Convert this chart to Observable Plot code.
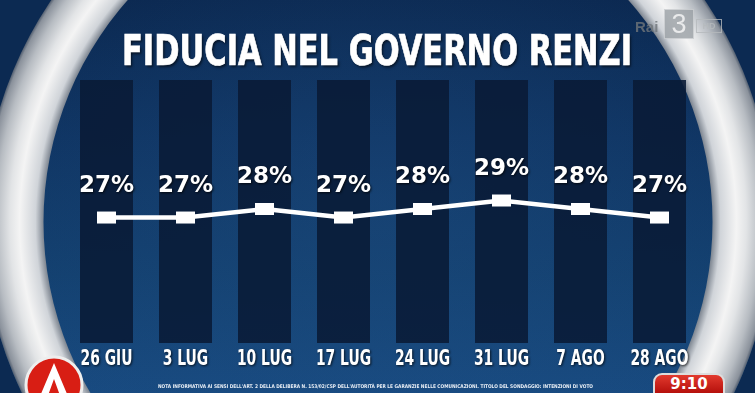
<!DOCTYPE html>
<html><head><meta charset="utf-8">
<script src="https://cdn.jsdelivr.net/npm/d3@7"></script>
<script src="https://cdn.jsdelivr.net/npm/@observablehq/plot@0.6"></script>
<style>
html,body{margin:0;padding:0;background:#0b2a52;}
#stage{position:relative;width:755px;height:393px;overflow:hidden;
 background:
  radial-gradient(ellipse 420px 300px at 378px 200px, rgba(35,85,140,0.30) 0%, rgba(35,85,140,0) 100%),
  linear-gradient(to bottom, #0b2850 0%, #0f3462 35%, #13406f 70%, #184a80 100%);}
#title{position:absolute;left:0;top:0;width:755px;height:78px;}
#title span{position:absolute;left:377px;top:29px;white-space:nowrap;color:#fff;
 font-family:"Liberation Sans Narrow","DejaVu Sans Condensed","DejaVu Sans",sans-serif;font-stretch:condensed;
 font-weight:bold;font-size:43px;line-height:43px;-webkit-text-stroke:0.7px #fff;text-shadow:2px 2px 3px rgba(0,0,0,0.6);transform-origin:0 0;}
#chart{position:absolute;left:0;top:78px;}
#chart svg text{filter:drop-shadow(1px 1px 1px rgba(0,0,0,0.7));}
#ring{position:absolute;left:0;top:0;pointer-events:none;}
#rai{position:absolute;left:633px;top:9px;height:30px;opacity:0.8;font-family:"Liberation Sans",sans-serif;font-weight:bold;}
#rai .r{position:absolute;left:2px;top:9px;font-size:15px;color:#6f757a;}
#rai .b{position:absolute;left:31px;top:0;width:28px;height:28px;background:#9aa0a5;border:1px solid #c8cbce;color:#e9eaeb;font-size:27px;line-height:28px;text-align:center;font-weight:normal;}
#rai .hd{position:absolute;left:63px;top:10px;width:24px;height:12px;border:1px solid #b6babd;color:#b6babd;font-size:9px;line-height:12px;text-align:center;}
#logo{position:absolute;left:24px;top:355px;}
#clock{position:absolute;left:653px;top:373px;width:72px;height:20px;border-radius:9px 9px 0 0;background:linear-gradient(#e23a2e,#b5100c);border:2px solid #ddd;border-bottom:none;box-sizing:border-box;}
#clock span{position:absolute;left:0;width:100%;top:0px;text-align:center;color:#fff;font:bold 15px/18px "DejaVu Sans",sans-serif;}
#note{position:absolute;left:158px;top:383px;white-space:nowrap;color:#e8eef5;font:bold 5px "Liberation Sans Narrow","DejaVu Sans Condensed",sans-serif;transform-origin:0 0;}
</style></head>
<body>
<div id="stage">
  <div id="title"><span id="titletext"></span></div>
  <svg id="ring" width="755" height="393">
    <defs>
      <radialGradient id="ringgrad" gradientUnits="userSpaceOnUse" cx="378" cy="222" r="396">
        <stop offset="0.845" stop-color="#7f8792"/>
        <stop offset="0.865" stop-color="#d0d4d9"/>
        <stop offset="0.905" stop-color="#f4f4f4"/>
        <stop offset="0.93" stop-color="#e2e4e6"/>
        <stop offset="0.965" stop-color="#b7bcc2"/>
        <stop offset="0.99" stop-color="#8a919b"/>
        <stop offset="1" stop-color="#3e4c60"/>
      </radialGradient>
    </defs>
    <path fill="#0c2a52" fill-rule="evenodd" d="M-10,-10 H765 V403 H-10 Z M378,-173 A395,395 0 1,0 378,617 A395,395 0 1,0 378,-173 Z"/>
    <path fill="url(#ringgrad)" fill-rule="evenodd" d="M378,-173 A395,395 0 1,0 378,617 A395,395 0 1,0 378,-173 Z M378,-112.5 A334.5,334.5 0 1,0 378,556.5 A334.5,334.5 0 1,0 378,-112.5 Z"/>
  </svg>
  <div id="chart"></div>
  <div id="rai"><span class="r">Rai</span><span class="b">3</span><span class="hd">HD</span></div>
  <svg id="logo" width="60" height="60" style="position:absolute">
    <circle cx="30" cy="30" r="28" fill="#d81e14" stroke="#eeeeee" stroke-width="3"/>
    <path d="M30 8 L46 46 L38 46 L30 24 L22 46 L14 46 Z" fill="#ffffff"/>
  </svg>
  <div id="clock"><span>9:10</span></div>
  <div id="note"></div>
</div>
<script>
const titleText = "FIDUCIA NEL GOVERNO RENZI";
const dates = ["26 GIU", "3 LUG", "10 LUG", "17 LUG", "24 LUG", "31 LUG", "7 AGO", "28 AGO"];
const values = [27, 27, 28, 27, 28, 29, 28, 27];
const valueLabels = ["27%", "27%", "28%", "27%", "28%", "29%", "28%", "27%"];
const noteText = "NOTA INFORMATIVA AI SENSI DELL'ART. 2 DELLA DELIBERA N. 153/02/CSP DELL'AUTORITÀ PER LE GARANZIE NELLE COMUNICAZIONI. TITOLO DEL SONDAGGIO: INTENZIONI DI VOTO";

const data = dates.map((d, i) => ({date: d, value: values[i], label: valueLabels[i]}));

const rectSymbol = {
  draw(ctx, size) {
    const r = Math.sqrt(size / Math.PI);
    ctx.rect(-r * 0.95, -r * 0.6, r * 1.9, r * 1.2);
  }
};

const plot = Plot.plot({
  width: 755,
  height: 315,
  marginTop: 2,
  marginBottom: 50,
  marginLeft: 0,
  marginRight: 0,
  style: {background: "transparent", color: "white", overflow: "visible"},
  x: {type: "point", domain: dates, range: [103.5, 661], padding: 0, label: null},
  y: {domain: [12.2, 43.1], axis: null},
  marks: [
    Plot.ruleX(data, {x: "date", stroke: "#091a35", strokeOpacity: 0.88, strokeWidth: 53}),
    Plot.axisX({tickSize: 0, tickPadding: 7, fontSize: 21, fontWeight: "bold",
      fontFamily: "'DejaVu Sans',sans-serif", fill: "white", label: null}),
    Plot.line(data, {x: "date", y: "value", stroke: "white", strokeWidth: 4.5}),
    Plot.dot(data, {x: "date", y: "value", symbol: rectSymbol, r: 10, fill: "white", stroke: "none"}),
    Plot.text(data, {x: "date", y: "value", text: "label", dy: -33, fontSize: 23, fontWeight: "bold",
      fontFamily: "'DejaVu Sans',sans-serif", fill: "white"})
  ]
});
document.getElementById("chart").appendChild(plot);

// condense the axis tick labels horizontally (narrow broadcast typeface)
const tickTexts = Array.from(plot.querySelectorAll('g[aria-label="x-axis tick label"] text'));
if (tickTexts.length) {
  const k = 52 / tickTexts[0].getComputedTextLength();
  for (const el of tickTexts) {
    el.setAttribute("textLength", (el.getComputedTextLength() * k).toFixed(1));
    el.setAttribute("lengthAdjust", "spacingAndGlyphs");
  }
}

function fit(el, targetWidth, centerX) {
  el.style.transform = "none";
  const w = el.getBoundingClientRect().width;
  const s = targetWidth / w;
  el.style.left = (centerX - targetWidth / 2) + "px";
  el.style.transform = `scaleX(${s})`;
}
const t = document.getElementById("titletext");
t.textContent = titleText;
fit(t, 510, 377);
const n = document.getElementById("note");
n.textContent = noteText;
fit(n, 435, 375);
</script>
</body></html>
